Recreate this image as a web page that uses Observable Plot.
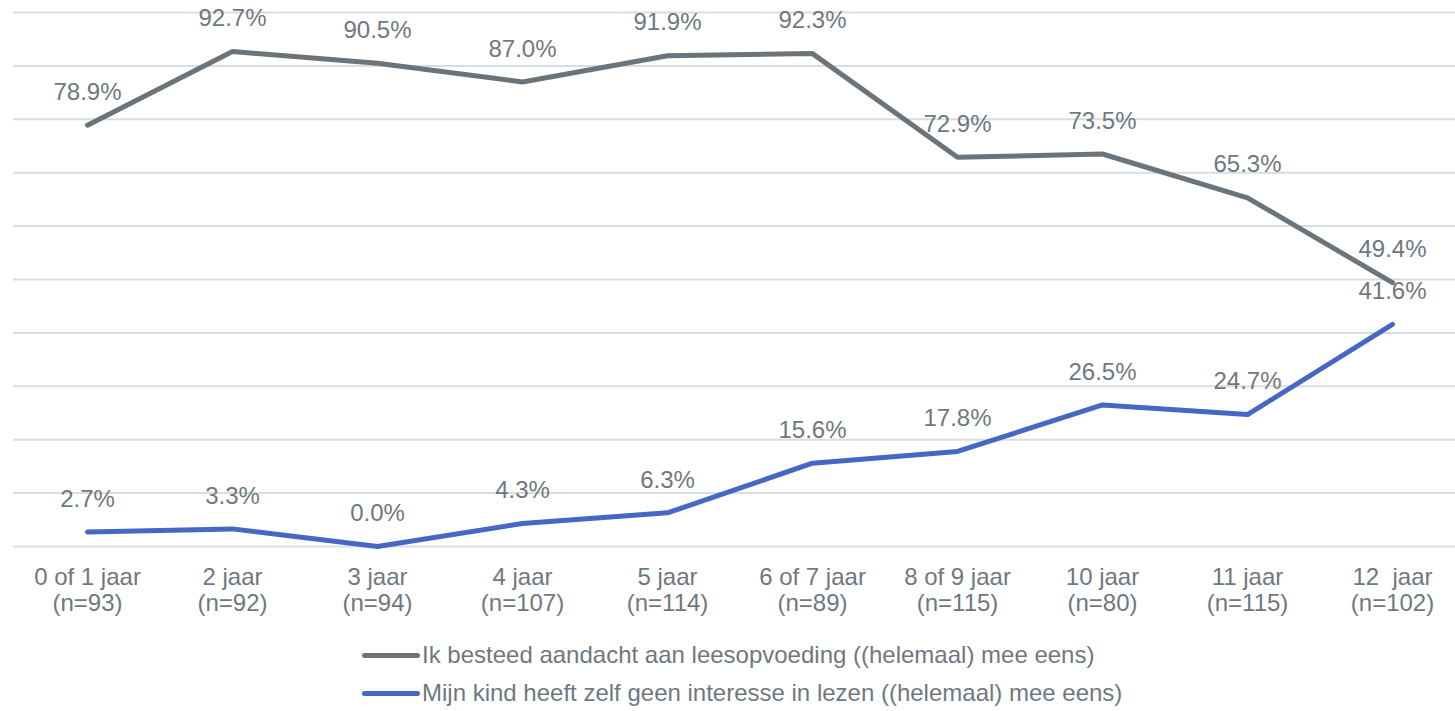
<!DOCTYPE html>
<html>
<head>
<meta charset="utf-8">
<script src="https://cdn.jsdelivr.net/npm/d3@7"></script>
<script src="https://cdn.jsdelivr.net/npm/@observablehq/plot@0.6"></script>
<style>
  html, body { margin: 0; padding: 0; background: #ffffff; }
  #chart svg { display: block; }
  #legend { font-family: "Liberation Sans", Arial, sans-serif; font-size: 24px; color: #6f787f; padding-top: 6px; margin-left: 362px; }
  .row { display: flex; align-items: center; height: 38px; white-space: nowrap; }
  .swatch { display: inline-block; width: 58px; height: 5px; border-radius: 3px; margin-right: 2px; }
</style>
</head>
<body>
<div id="chart"></div>
<div id="legend"></div>
<script>
const categories = [
  "0 of 1 jaar\n(n=93)",
  "2 jaar\n(n=92)",
  "3 jaar\n(n=94)",
  "4 jaar\n(n=107)",
  "5 jaar\n(n=114)",
  "6 of 7 jaar\n(n=89)",
  "8 of 9 jaar\n(n=115)",
  "10 jaar\n(n=80)",
  "11 jaar\n(n=115)",
  "12\u00a0 jaar\n(n=102)"
];
const seriesNames = [
  "Ik besteed aandacht aan leesopvoeding ((helemaal) mee eens)",
  "Mijn kind heeft zelf geen interesse in lezen ((helemaal) mee eens)"
];
const attentionValues = [78.9, 92.7, 90.5, 87.0, 91.9, 92.3, 72.9, 73.5, 65.3, 49.4];
const noInterestValues = [2.7, 3.3, 0.0, 4.3, 6.3, 15.6, 17.8, 26.5, 24.7, 41.6];
const gridTicks = [0, 10, 20, 30, 40, 50, 60, 70, 80, 90, 100];
const seriesColors = ["#6b747a", "#4468c3"];

const textColor = "#6f787f";

const data = [];
categories.forEach((c, i) => {
  data.push({cat: c, value: attentionValues[i], series: seriesNames[0]});
});
categories.forEach((c, i) => {
  data.push({cat: c, value: noInterestValues[i], series: seriesNames[1]});
});

const chart = Plot.plot({
  width: 1455,
  height: 630,
  marginTop: 12,
  marginBottom: 84,
  marginLeft: 13,
  marginRight: 0,
  style: {fontFamily: "'Liberation Sans', Arial, sans-serif", fontSize: "24px", color: textColor, background: "#ffffff"},
  x: {type: "point", domain: categories, padding: 0, insetLeft: 73, insetRight: 62, label: null},
  y: {domain: [0, 100], axis: null},
  color: {domain: seriesNames, range: seriesColors},
  marks: [
    Plot.ruleY(gridTicks, {stroke: "#d9dde1", strokeWidth: 2, strokeOpacity: 1}),
    Plot.axisX({tickSize: 0, tickPadding: 21, fontSize: 24, lineHeight: 1.05, fill: textColor, label: null}),
    Plot.lineY(data, {x: "cat", y: "value", z: "series", stroke: "series", strokeWidth: 5, strokeLinejoin: "round", strokeLinecap: "round"}),
    Plot.text(data, {x: "cat", y: "value", text: d => d.value.toFixed(1) + "%", dy: -33, fill: textColor, fontSize: 24})
  ]
});
document.getElementById("chart").appendChild(chart);

const legend = document.getElementById("legend");
seriesNames.forEach((name, i) => {
  const row = document.createElement("div");
  row.className = "row";
  const sw = document.createElement("span");
  sw.className = "swatch";
  sw.style.background = seriesColors[i];
  const t = document.createElement("span");
  t.textContent = name;
  row.appendChild(sw);
  row.appendChild(t);
  legend.appendChild(row);
});
</script>
</body>
</html>
